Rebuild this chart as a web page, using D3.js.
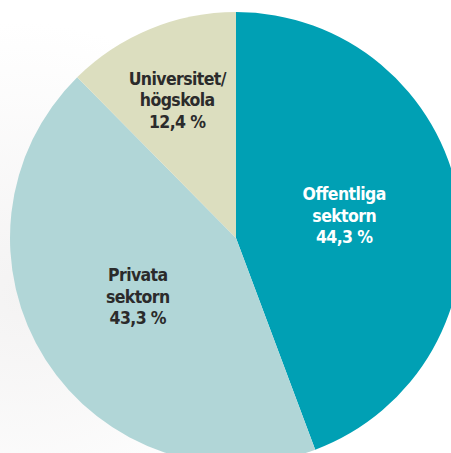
<!DOCTYPE html>
<html>
<head>
<meta charset="utf-8">
<script src="https://cdn.jsdelivr.net/npm/d3@7"></script>
<style>
body{margin:0;background:#fff;}
#chart{width:451px;height:453px;overflow:hidden;}
.lbl{font-family:"Liberation Sans Narrow","DejaVu Sans Condensed","Roboto",sans-serif;font-weight:bold;font-size:17.5px;letter-spacing:-0.6px;}
</style>
</head>
<body>
<div id="chart"></div>
<script>
const sectors = ['Offentliga\nsektorn', 'Privata\nsektorn', 'Universitet/\nhögskola'];
const shares = [44.3, 43.3, 12.4];
const sliceColors = ['#00a0b4', '#b1d6d7', '#dcdebf'];
const textColors = ['#ffffff', '#2b2b2b', '#2b2b2b'];

const details = sectors.map((s, i) => ({name: s, value: shares[i]}));

const width = 451, height = 453;
const cx = 236, cy = 238, radius = 226;

const svg = d3.select('#chart')
.append('svg')
.attr('width', width)
.attr('height', height);

// faint grey shading behind the pie, like the scanned page
const defs = svg.append('defs');
const grad = defs.append('radialGradient').attr('id', 'shade')
.attr('cx', '0.05').attr('cy', '0.65').attr('r', '0.6');
grad.append('stop').attr('offset', '0%').attr('stop-color', '#f4f3f3');
grad.append('stop').attr('offset', '100%').attr('stop-color', '#ffffff');
svg.append('rect').attr('width', width).attr('height', height).attr('fill', 'url(#shade)');

const data = d3.pie()
.sort(null)
.value(d => d.value)(details);

const segments = d3.arc()
.innerRadius(0)
.outerRadius(radius);

const g = svg.append('g')
.attr('transform', `translate(${cx},${cy})`);

g.selectAll('path')
.data(data)
.enter()
.append('path')
.attr('d', segments)
.attr('fill', (d, i) => sliceColors[i]);

// narrow slices get their label pushed further out
function labelPos(d) {
    const r = (d.endAngle - d.startAngle) < 1 ? radius * 0.65 : radius * 0.5;
    return d3.arc().innerRadius(r).outerRadius(r).centroid(d);
}

const lineGap = 21.5;
g.selectAll('text.lbl')
.data(data)
.enter()
.append('text')
.classed('lbl', true)
.attr('text-anchor', 'middle')
.attr('fill', (d, i) => textColors[i])
.each(function(d) {
    const c = labelPos(d);
    const lines = d.data.name.split('\n').concat([d3.format('.1f')(d.data.value).replace('.', ',') + ' %']);
    const sel = d3.select(this);
    lines.forEach((t, j) => {
        sel.append('tspan')
        .attr('x', c[0] - 3)
        .attr('y', c[1] + (j - 1) * lineGap + 4)
        .text(t);
    });
});
</script>
</body>
</html>
